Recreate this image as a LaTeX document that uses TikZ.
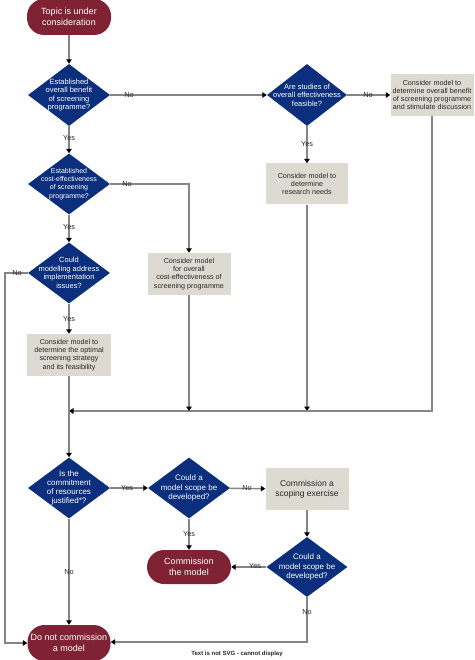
\documentclass[tikz,border=0pt]{standalone}
\usepackage{fontspec}
\setmainfont{Liberation Sans}
\usetikzlibrary{shapes.geometric,arrows.meta}
\definecolor{termred}{HTML}{7E2234}
\definecolor{decblue}{HTML}{0B2F7C}
\definecolor{boxgray}{HTML}{DDDBD1}
\definecolor{linegray}{HTML}{858585}
\tikzset{
  term/.style={fill=termred, rounded corners=17pt, minimum width=84pt, minimum height=36pt,
    text=white, font=\fontsize{9}{10.5}\selectfont, align=center, inner sep=0pt},
  dec/.style={diamond, fill=decblue, minimum width=82pt, minimum height=62pt, inner sep=0pt},
  dectext/.style={text=white, align=center, font=\fontsize{7.5}{8.6}\selectfont},
  stepbox/.style={fill=boxgray, minimum width=83pt, minimum height=42pt, align=center,
    font=\fontsize{7.2}{8.2}\selectfont, text=black!85, inner sep=0pt},
  conn/.style={draw=linegray, line width=1.4pt},
  arr/.style={conn, -{Triangle[length=4.5pt,width=5.5pt,color=black]}},
  lbl/.style={font=\fontsize{7.3}{8}\selectfont, text=black!85, inner sep=0pt}
}
\begin{document}
\begin{tikzpicture}[x=1pt,y=-1pt]
\useasboundingbox (0,0) rectangle (474,660);
\clip (0,0) rectangle (474,660);
% nodes
\node[term] (t1) at (69,17) {Topic is under\\consideration};
\node[dec] (d1) at (69,95) {};
\node[dectext] at (d1) {Established\\overall benefit\\of screening\\programme?};
\node[dec, minimum width=80pt] (d2) at (307,95) {};
\node[dectext] at (d2) {Are studies of\\overall effectiveness\\feasible?};
\node[stepbox] (b1) at (432,95) {Consider model to\\determine overall benefit\\of screening programme\\and stimulate discussion};
\node[stepbox, minimum width=82pt, minimum height=41pt] (b2) at (307,184) {Consider model to\\determine\\research needs};
\node[dec, minimum height=61pt] (d3) at (69,184) {};
\node[dectext, font=\fontsize{7}{8.2}\selectfont] at (d3) {Established\\cost-effectiveness\\of screening\\programme?};
\node[stepbox] (b3) at (189,274) {Consider model\\for overall\\cost-effectiveness of\\screening programme};
\node[dec, minimum height=61pt] (d4) at (69,273) {};
\node[dectext] at (d4) {Could\\modelling address\\implementation\\issues?};
\node[stepbox, minimum width=84pt] (b4) at (69,355) {Consider model to\\determine the optimal\\screening strategy\\and its feasibility};
\node[dec, minimum height=61pt] (d5) at (69,488) {};
\node[dectext, font=\fontsize{8}{9.2}\selectfont] at (d5) {Is the\\commitment\\of resources\\justified*?};
\node[dec, minimum height=61pt] (d6) at (189,488) {};
\node[dectext, font=\fontsize{8}{9.2}\selectfont] at (d6) {Could a\\model scope be\\developed?};
\node[stepbox, font=\fontsize{8.5}{10}\selectfont] (b5) at (307,489) {Commission a\\scoping exercise};
\node[dec, minimum width=81pt, minimum height=60pt] (d7) at (307,567) {};
\node[dectext, font=\fontsize{8}{9.2}\selectfont] at (d7) {Could a\\model scope be\\developed?};
\node[term, minimum height=34pt] (t2) at (189,567) {Commission\\the model};
\node[term, minimum width=83pt] (t3) at (69,643) {Do not commission\\a model};
\node[font=\fontsize{6}{7}\selectfont\bfseries, text=black!85] (foot) at (237,654) {Text is not SVG - cannot display};
% coordinates
\coordinate (m0) at (69,411);
\coordinate (c1) at (432,411);
\coordinate (m2) at (307,411);
\coordinate (m3) at (189,411);
\coordinate (k3) at (189,184);
\coordinate (l1) at (5,273);
\coordinate (l2) at (5,643);
\coordinate (r1) at (307,642);
% connectors
\draw[arr] (t1) -- (d1);
\draw[arr] (d1) -- (d2);
\draw[arr] (d2) -- (b1);
\draw[arr] (d2) -- (b2);
\draw[arr] (b2) -- (m2);
\draw[arr] (b1) -- (c1) -- (m0);
\draw[arr] (d1) -- (d3);
\draw[arr] (d3.east) -- (k3) -- (b3);
\draw[arr] (b3) -- (m3);
\draw[arr] (d3) -- (d4);
\draw[arr] (d4.west) -- (l1) -- (l2) -- (t3.west);
\draw[arr] (d4) -- (b4);
\draw[arr] (b4) -- (d5);
\draw[arr] (d5) -- (d6);
\draw[arr] (d5) -- (t3);
\draw[arr] (d6) -- (b5);
\draw[arr] (d6) -- (t2);
\draw[arr] (b5) -- (d7);
\draw[arr] (d7) -- (t2);
\draw[arr] (d7.south) -- (r1) -- (t3.east |- r1);
% labels
\node[lbl] at (129,95) {No};
\node[lbl] at (69,138) {Yes};
\node[lbl] at (127,184) {No};
\node[lbl] at (69,227) {Yes};
\node[lbl] at (17,273) {No};
\node[lbl] at (69,319) {Yes};
\node[lbl] at (368,95) {No};
\node[lbl] at (307,144) {Yes};
\node[lbl] at (127,488) {Yes};
\node[lbl] at (69,572) {No};
\node[lbl] at (247,488) {No};
\node[lbl] at (189,534) {Yes};
\node[lbl] at (255,566) {Yes};
\node[lbl] at (307,612) {No};
\end{tikzpicture}
\end{document}
